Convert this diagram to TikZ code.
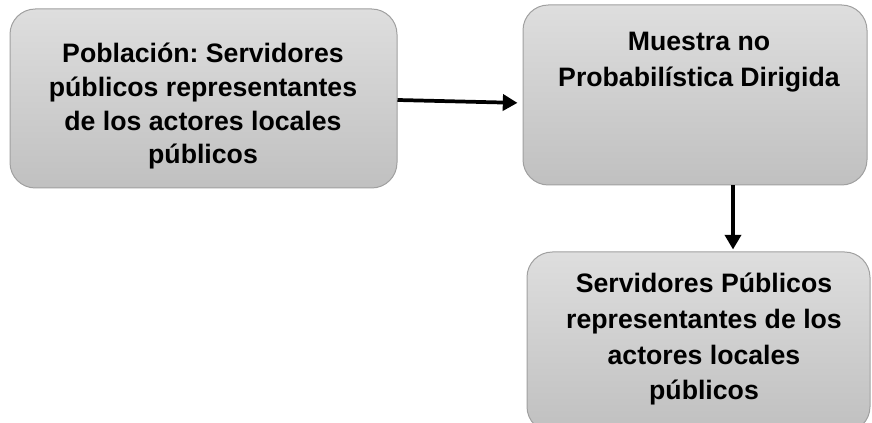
\documentclass[tikz,border=0pt]{standalone}
\usepackage{fontspec}
\setmainfont{Liberation Sans}
\frenchspacing
\usetikzlibrary{arrows.meta,calc}
\definecolor{boxtop}{RGB}{222,222,222}
\definecolor{boxbot}{RGB}{192,192,192}
\definecolor{boxline}{RGB}{160,160,160}
\tikzset{
  px/.style={x=0.75pt,y=-0.75pt},
  graybox/.style={draw=boxline,line width=0.75pt,rounded corners=19pt,
    top color=boxtop,bottom color=boxbot,inner sep=0pt},
  boxtext/.style={align=center,anchor=base,inner sep=0pt,font=\bfseries\fontsize{20}{#1}\selectfont\frenchspacing},
  conn/.style={line width=2.8pt,-{Triangle[length=11pt,width=12pt]}}
}
\begin{document}
\begin{tikzpicture}[px]
\useasboundingbox (0,0) rectangle (872,423);
\node[graybox,minimum width=290.25pt,minimum height=134.25pt] (b1) at (203.5,98.5) {};
\node[graybox,minimum width=258pt,minimum height=135pt] (b2) at (695,95) {};
\node[graybox,minimum width=257.25pt,minimum height=135pt] (b3) at (698.5,342) {};
\node[boxtext=25.3pt] (t1) at (203,164) {Población: Servidores\\públicos representantes\\de los actores locales\\públicos};
\node[boxtext=27.7pt] (t2) at (699,87) {Muestra no\\Probabilística Dirigida};
\node[boxtext=26.8pt] (t3) at (704,400) {Servidores Públicos\\representantes de los\\actores locales\\públicos};
\draw[conn,shorten >=3.75pt] ($(b1.east)+(0,1.5)$) -- ($(b2.west)+(0,8)$);
\draw[conn] ($(b2.south)+(38,0)$) -- ($(b3.north)+(34.5,-2)$);
\end{tikzpicture}
\end{document}
